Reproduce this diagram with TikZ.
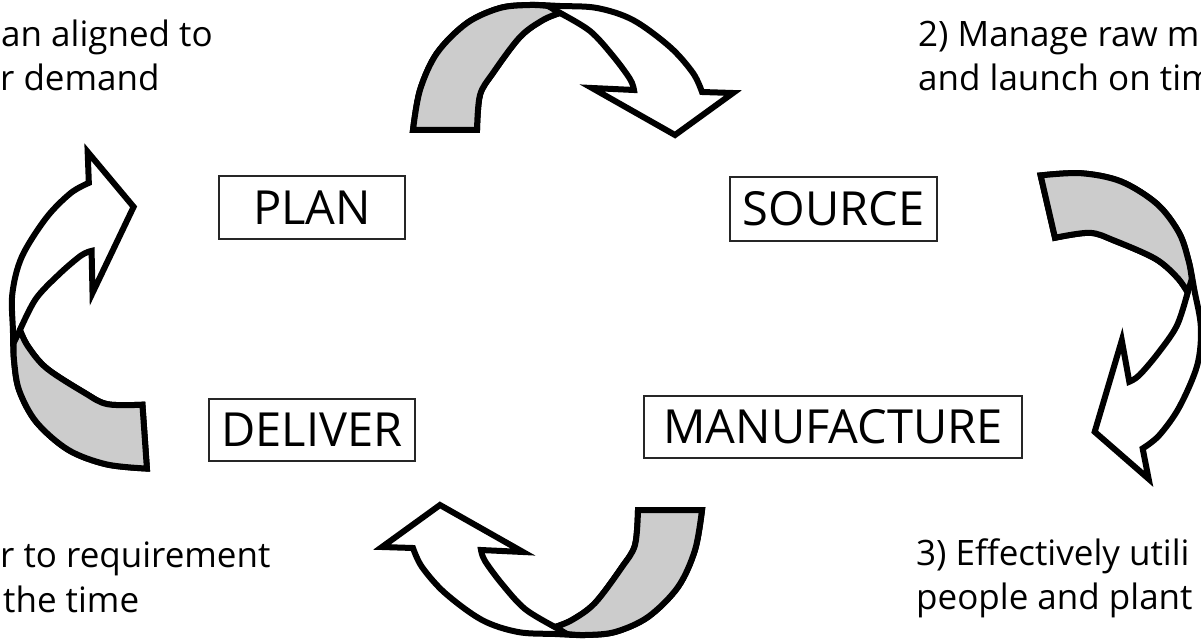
\documentclass[tikz,border=0pt]{standalone}
\usepackage{fontspec}
\setmainfont{Open Sans}
\definecolor{curlgray}{HTML}{CCCCCC}
\tikzset{
  arrowline/.style={line width=6pt, line join=miter, miter limit=12, draw=black}
}
\newcommand{\curlshape}{%
    \filldraw[arrowline, fill=white]
      plot[smooth, tension=0.55] coordinates {(-143,30) (-136,-10) (-119,-47) (-89,-77) (-56,-92) (-26,-95) (4,-94) (41,-92) (77,-80) (114,-53) (137,-27) (146,-8)}
      -- (177,-7) -- (119,35) -- (36,-12) -- (78,-10)
      -- plot[smooth, tension=0.55] coordinates {(78,-10) (74,-21) (57,-44) (34,-69) (4,-87)}
      -- plot[smooth, tension=0.55] coordinates {(4,-87) (-13,-80) (-36,-63) (-63,-27) (-76,-5) (-79,30)}
      -- cycle;
    \filldraw[arrowline, fill=curlgray]
      plot[smooth, tension=0.55] coordinates {(-143,30) (-136,-10) (-119,-47) (-89,-77) (-56,-92) (-26,-95) (-8,-94)}
      -- (4,-87)
      -- plot[smooth, tension=0.55] coordinates {(4,-87) (-13,-80) (-36,-63) (-63,-27) (-76,-5) (-79,30)}
      -- cycle;
}
\begin{document}
\begin{tikzpicture}[x=1pt,y=-1pt,
  boxlabel/.style={draw=black!85, line width=1.2pt, inner sep=0pt, font=\fontsize{47}{50}\selectfont},
  note/.style={anchor=base west, inner sep=0pt, font=\fontsize{35}{40}\selectfont}]
\useasboundingbox (0,0) rectangle (1201,644);

% curled arrows
\begin{scope}[shift={(556,100)}] \curlshape \end{scope}
\begin{scope}[shift={(1102,308)}, rotate=-77] \curlshape \end{scope}
\begin{scope}[shift={(559,540)}, rotate=180] \curlshape \end{scope}
\begin{scope}[shift={(107,328)}, rotate=94] \curlshape \end{scope}

% boxes
\node[boxlabel, minimum width=186pt, minimum height=63pt] (plan) at (312,207.5) {PLAN};
\node[boxlabel, minimum width=207pt, minimum height=64pt] (source) at (833.5,209) {SOURCE};
\node[boxlabel, minimum width=206pt, minimum height=62pt] (deliver) at (312,430) {DELIVER};
\node[boxlabel, minimum width=378pt, minimum height=62pt] (manufacture) at (833,427) {MANUFACTURE};

% notes
\node[note] (tl1) at (1,47) {an aligned to};
\node[note] (tl2) at (0,91) {r demand};
\node[note] (tr1) at (918,47) {2) Manage raw m};
\node[note] (tr2) at (918,91) {and launch on tim};
\node[note] (bl1) at (0,567) {r to requirement};
\node[note] (bl2) at (3,612) {the time};
\node[note] (br1) at (916,565) {3) Effectively utili};
\node[note] (br2) at (916,609) {people and plant};
\end{tikzpicture}
\end{document}
